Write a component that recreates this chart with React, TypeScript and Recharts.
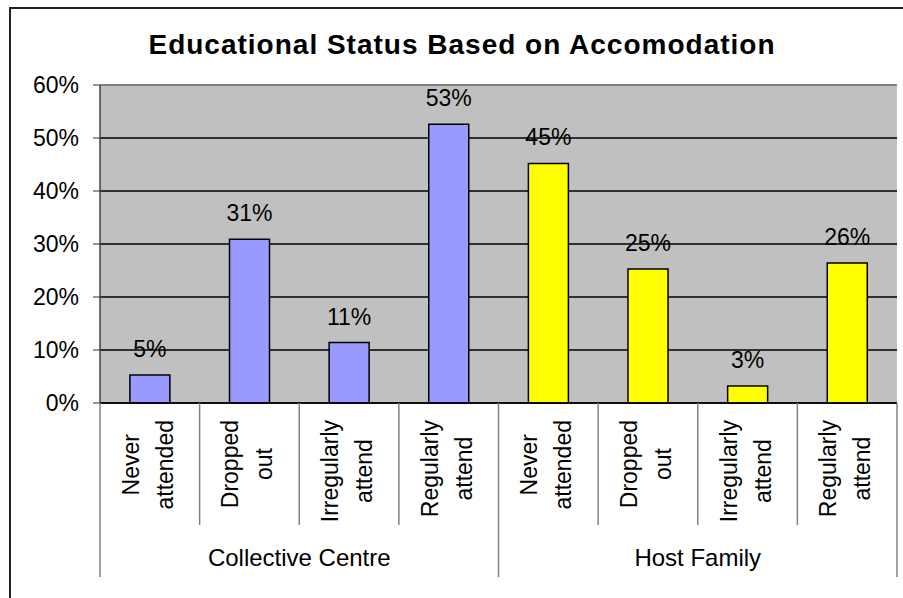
import React from 'react';
import { BarChart, Bar, XAxis, YAxis, CartesianGrid, Cell, LabelList, ReferenceLine } from 'recharts';

const TITLE = 'Educational Status Based on Accomodation';
const GROUPS = ['Collective Centre', 'Host Family'];
const CATEGORY_LABELS = ['Never\nattended', 'Dropped\nout', 'Irregularly\nattend', 'Regularly\nattend'];
const COLLECTIVE_VALUES = [5.3, 30.9, 11.4, 52.6];
const HOST_VALUES = [45.2, 25.3, 3.2, 26.4];
const GROUP_COLORS = ['#9999FF', '#FFFF00'];
const Y_TICKS = [0, 10, 20, 30, 40, 50, 60];

const data = [
  ...COLLECTIVE_VALUES.map((v, i) => ({ id: `${GROUPS[0]}|${i}`, group: 0, value: v })),
  ...HOST_VALUES.map((v, i) => ({ id: `${GROUPS[1]}|${i}`, group: 1, value: v })),
];

const W = 903;
const H = 598;
const M = { top: 85, right: 6, bottom: 15, left: 40 };
const YW = 60;
const N = data.length;
const HALF = (W - M.left - YW - M.right) / N / 2;
const FONT = '"Liberation Sans", Arial, sans-serif';

let ctx: CanvasRenderingContext2D | null = null;
const measure = (s: string) => {
  if (!ctx) {
    ctx = document.createElement('canvas').getContext('2d');
  }
  if (!ctx) return s.length * 11;
  ctx.font = `23px ${FONT}`;
  return ctx.measureText(s).width;
};

const XTick = (props: any) => {
  const { x, y, index } = props;
  const lines = CATEGORY_LABELS[index % 4].split('\n');
  const maxW = Math.max(...lines.map(measure));
  const cy = y + 17 + maxW / 2;
  const offs = [-11, 23];
  const isGroupStart = index % 4 === 0;
  return (
    <g>
      {lines.map((ln, i) => (
        <text
          key={i}
          transform={`translate(${x + offs[i]},${cy}) rotate(-90)`}
          textAnchor="middle"
          fontSize={23}
          fill="#000"
        >
          {ln}
        </text>
      ))}
      <line x1={x - HALF} x2={x - HALF} y1={y} y2={y + (isGroupStart ? 174 : 122)} stroke="#808080" strokeWidth={1.5} />
      {index === N - 1 && (
        <line x1={x + HALF} x2={x + HALF} y1={y} y2={y + 174} stroke="#808080" strokeWidth={1.5} />
      )}
      {index % 4 === 1 && (
        <text x={x + HALF} y={y + 163} textAnchor="middle" fontSize={24} fill="#000">
          {GROUPS[Math.floor(index / 4)]}
        </text>
      )}
    </g>
  );
};

export default function App() {
  return (
    <div style={{ position: 'absolute', left: 0, top: 0, width: W, height: H, overflow: 'hidden', background: '#fff', fontFamily: FONT }}>
      <div style={{ position: 'absolute', left: 9, top: 7, width: W, height: H, borderLeft: '2px solid #222', borderTop: '2px solid #222' }} />
      <svg width={W} height={70} style={{ position: 'absolute', left: 0, top: 0 }}>
        <text x={462} y={54} textAnchor="middle" fontWeight="bold" fontSize={28} letterSpacing={1.0} fill="#000" fontFamily={FONT}>
          {TITLE}
        </text>
      </svg>
      <div style={{ position: 'absolute', left: 0, top: 0 }}>
        <BarChart width={W} height={H} data={data} margin={M} barCategoryGap="30%">
          <CartesianGrid
            horizontal
            vertical={false}
            stroke="#000"
            strokeWidth={1.4}
            strokeOpacity={1}
            fill="#C0C0C0"
            fillOpacity={1}
          />
          <XAxis
            dataKey="id"
            interval={0}
            height={180}
            tickSize={0}
            tickMargin={0}
            tickLine={false}
            axisLine={{ stroke: '#000', strokeWidth: 1.5 }}
            tick={<XTick />}
          />
          <YAxis
            width={YW}
            domain={[0, 60]}
            ticks={Y_TICKS}
            interval={0}
            tickFormatter={(v: number) => `${v}%`}
            tickSize={7}
            tickMargin={14}
            tick={{ fill: '#000', fontSize: 23 }}
            tickLine={{ stroke: '#333' }}
            axisLine={{ stroke: '#404040', strokeWidth: 1.5 }}
          />
          <YAxis
            yAxisId="r"
            orientation="right"
            width={0}
            domain={[0, 60]}
            tick={false}
            tickLine={false}
            axisLine={{ stroke: '#808080', strokeWidth: 2 }}
          />
          <ReferenceLine y={60} stroke="#808080" strokeWidth={2} />
          <Bar dataKey="value" stroke="#000" strokeWidth={1.5} isAnimationActive={false}>
            {data.map((d, i) => (
              <Cell key={i} fill={GROUP_COLORS[d.group]} />
            ))}
            <LabelList
              dataKey="value"
              position="top"
              offset={18}
              formatter={(v: any) => `${Math.round(Number(v))}%`}
              fill="#000"
              fontSize={23}
            />
          </Bar>
        </BarChart>
      </div>
    </div>
  );
}
